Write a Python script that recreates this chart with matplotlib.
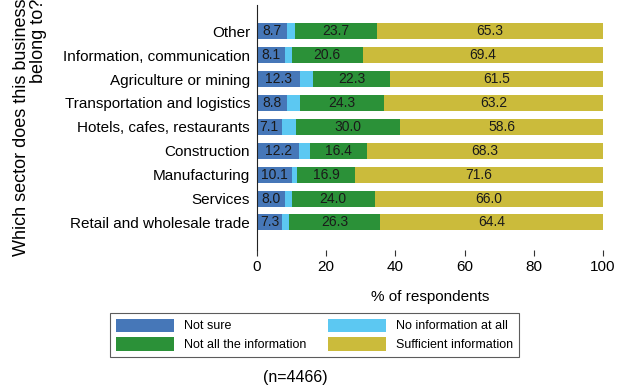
import matplotlib
matplotlib.use('Agg')
import matplotlib.pyplot as plt
import numpy as np

plt.rcParams['font.family'] = ['Liberation Sans', 'DejaVu Sans']

# sectors, bottom to top
sectors = ['Retail and wholesale trade', 'Services', 'Manufacturing', 'Construction',
           'Hotels, cafes, restaurants', 'Transportation and logistics',
           'Agriculture or mining', 'Information, communication', 'Other']
not_sure = [7.3, 8.0, 10.1, 12.2, 7.1, 8.8, 12.3, 8.1, 8.7]
no_info = [2.0, 2.0, 1.4, 3.1, 4.3, 3.7, 3.9, 1.9, 2.3]
not_all = [26.3, 24.0, 16.9, 16.4, 30.0, 24.3, 22.3, 20.6, 23.7]
sufficient = [64.4, 66.0, 71.6, 68.3, 58.6, 63.2, 61.5, 69.4, 65.3]

series = [('Not sure', not_sure, '#4677b8'),
          ('No information at all', no_info, '#5cc8f2'),
          ('Not all the information', not_all, '#2b9138'),
          ('Sufficient information', sufficient, '#cbbb3b')]

fig = plt.figure(figsize=(6.23, 3.88), dpi=100)
ax = fig.add_axes([0.4125, 0.356, 0.5555, 0.631])

y = np.arange(len(sectors))
left = np.zeros(len(sectors))
handles = []
for name, vals, col in series:
    vals = np.array(vals)
    bars = ax.barh(y, vals, left=left, height=0.67, color=col, label=name)
    if name != 'No information at all':
        ax.bar_label(bars, labels=['%.1f' % v for v in vals], label_type='center',
                     fontsize=10, color='#1a1a1a')
    handles.append(bars)
    left += vals

ax.set_xlim(0, 100)
ax.set_ylim(-1.15, 9.1)
ax.set_yticks(y)
ax.set_yticklabels(sectors, fontsize=11)
ax.set_xticks([0, 20, 40, 60, 80, 100])
ax.tick_params(axis='x', labelsize=11, length=4, color='#333333')
ax.tick_params(axis='y', length=0, pad=5)
ax.set_xlabel('% of respondents', fontsize=11, labelpad=11)
for s in ['top', 'right', 'bottom']:
    ax.spines[s].set_visible(False)
ax.spines['left'].set_color('#222222')

fig.text(0.048, 0.34, 'Which sector does this business\nbelong to?', rotation=90,
         ha='center', va='bottom', multialignment='right', fontsize=13, linespacing=1.05)

# legend filled row by row like the original
order = [0, 2, 1, 3]
leg = fig.legend(handles=[handles[i] for i in order], loc='center',
                 bbox_to_anchor=(0.505, 0.137), ncol=2,
                 fontsize=9, frameon=True, fancybox=False, edgecolor='#333333',
                 handlelength=4.6, handleheight=1.25, handletextpad=0.8,
                 columnspacing=1.8, borderpad=0.45, labelspacing=0.4)
leg.get_frame().set_linewidth(0.8)

fig.text(0.474, 0.028, '(n=4466)', ha='center', va='center', fontsize=11.5)

fig.savefig('out.png', dpi=100)
